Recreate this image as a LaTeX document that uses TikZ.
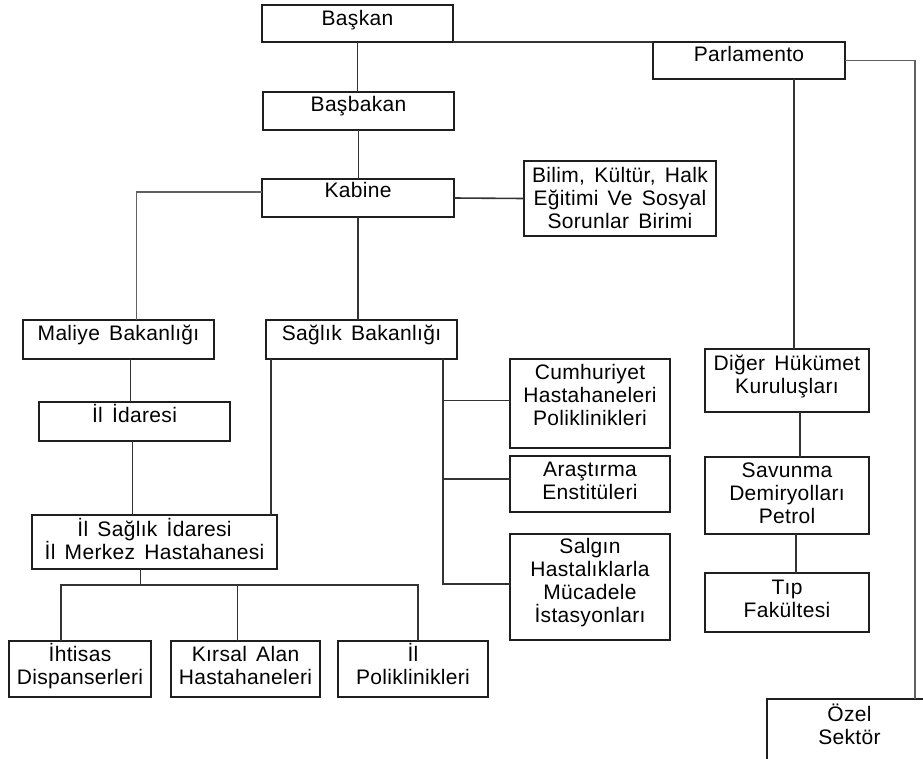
\documentclass[tikz,border=0pt]{standalone}
\usepackage{fontspec}
\setmainfont[LetterSpace=1.5, WordSpace=1.5]{Liberation Sans}
\usetikzlibrary{calc}

% stacked, centred lines whose reference point is the first baseline
\newcommand{\boxlines}[1]{\vtop{\halign{\hfil##\hfil\cr#1\crcr}}}

\tikzset{
  orgframe/.style={draw=black!88, line width=1.6pt, rectangle, inner sep=0pt, outer sep=0pt},
  orgtext/.style={inner sep=0pt, outer sep=0pt, text=black, font=\fontsize{21}{23}\selectfont},
  link/.style={draw=black!80, line width=1.6pt},
  softlink/.style={draw=black!62, line width=1.7pt},
}

% name, left, top, right, bottom, first baseline below top, text
\newcommand{\orgbox}[7]{%
  \node[orgframe, minimum width={#4pt-#2pt}, minimum height={#5pt-#3pt}, anchor=north west] (#1) at (#2,#3) {};
  \node[orgtext, anchor=base] (#1-txt) at ($(#1.north)+(0,#6)$) {\boxlines{#7}};
}

\begin{document}
\begin{tikzpicture}[x=1pt, y=-1pt]
\useasboundingbox (0,0) rectangle (923,758);
\fill[white] (0,0) rectangle (923,758);

% boxes
\orgbox{baskan}{262}{5}{453}{42}{20}{Başkan}
\orgbox{basbakan}{263}{92}{454}{130}{19}{Başbakan}
\orgbox{kabine}{262}{179}{454}{217}{18}{Kabine}
\orgbox{bilim}{524}{161}{716}{236}{21}{Bilim, Kültür, Halk\cr Eğitimi Ve Sosyal\cr Sorunlar Birimi}
\orgbox{parl}{653}{42}{845}{79}{19}{Parlamento}
\orgbox{maliye}{23}{320}{214}{359}{20}{Maliye Bakanlığı}
\orgbox{saglik}{266}{320}{457}{359}{20}{Sağlık Bakanlığı}
\orgbox{iliadare}{39}{402}{230}{441}{20}{İl İdaresi}
\orgbox{ilsaglik}{32}{515}{277}{569}{21}{İl Sağlık İdaresi\cr İl Merkez Hastahanesi}
\orgbox{cumh}{510}{359}{670}{448}{20}{Cumhuriyet\cr Hastahaneleri\cr Poliklinikleri}
\orgbox{arast}{510}{456}{670}{512}{20}{Araştırma\cr Enstitüleri}
\orgbox{salgin}{510}{534}{670}{640}{19}{Salgın\cr Hastalıklarla\cr Mücadele\cr İstasyonları}
\orgbox{diger}{705}{349}{869}{412}{21}{Diğer Hükümet\cr Kuruluşları}
\orgbox{savunma}{705}{457}{869}{534}{20.5}{Savunma\cr Demiryolları\cr Petrol}
\orgbox{tip}{705}{573}{869}{632}{21}{Tıp\cr Fakültesi}
\orgbox{ihtisas}{9}{641}{151}{697}{20.5}{İhtisas\cr Dispanserleri}
\orgbox{kirsal}{171}{641}{320}{697}{20.5}{Kırsal Alan\cr Hastahaneleri}
\orgbox{ilpol}{338}{641}{488}{697}{20.5}{İl\cr Poliklinikleri}
\orgbox{ozel}{767}{699}{932}{775}{22.5}{Özel\cr Sektör}

% top of the chart
\draw[link] (baskan.south) -- (baskan.south |- basbakan.north);
\draw[link] (baskan.south east) -- (parl.north west);
\draw[link] (basbakan.south) -- (basbakan.south |- kabine.north);
\draw[link] (kabine.east) -- (bilim.west);
\draw[softlink] ($(kabine.west)+(0,-6)$) -| ($(maliye.north)+(18,0)$);
\draw[link] (kabine.south) -- (kabine.south |- saglik.north);

% parliament side
\coordinate (pdown) at ($(parl.south)+(45,0)$);
\draw[link] (pdown) -- (pdown |- diger.north);
\draw[softlink] (parl.east) -| ($(ozel.north west)+(148,0)$);
\coordinate (ddown) at ($(diger.south)+(13,0)$);
\draw[link] (ddown) -- (ddown |- savunma.north);
\coordinate (sdown) at ($(savunma.south)+(9,0)$);
\draw[link] (sdown) -- (sdown |- tip.north);

% finance branch
\coordinate (mdown) at ($(maliye.south)+(12,0)$);
\draw[link] (mdown) -- (mdown |- iliadare.north);
\coordinate (idown) at ($(iliadare.south)+(-2,0)$);
\draw[link] (idown) -- (idown |- ilsaglik.north);

% health ministry branches
\coordinate (sleft) at ($(saglik.south west)+(5,0)$);
\draw[link] (sleft) -- (sleft |- ilsaglik.north);
\coordinate (sbus) at ($(saglik.south east)+(-14,0)$);
\coordinate (tocumh) at ($(cumh.west)+(0,-3)$);
\coordinate (toarast) at ($(arast.west)+(0,-5)$);
\coordinate (tosalgin) at ($(salgin.west)+(0,-3)$);
\draw[link] (sbus) |- (tosalgin);
\draw[link] (sbus |- tocumh) -- (tocumh);
\draw[link] (sbus |- toarast) -- (toarast);

% provincial health units
\coordinate (hdown) at ($(ilsaglik.south)+(-14,0)$);
\coordinate (hbus) at ($(hdown)+(0,16)$);
\coordinate (d1) at ($(ihtisas.north)+(-19,0)$);
\coordinate (d2) at ($(kirsal.north)+(-8,0)$);
\coordinate (d3) at ($(ilpol.north)+(5,0)$);
\draw[link] (hdown) -- (hbus);
\draw[link] (d1) -- (d1 |- hbus) -- (d3 |- hbus) -- (d3);
\draw[link] (d2) -- (d2 |- hbus);
\end{tikzpicture}
\end{document}
